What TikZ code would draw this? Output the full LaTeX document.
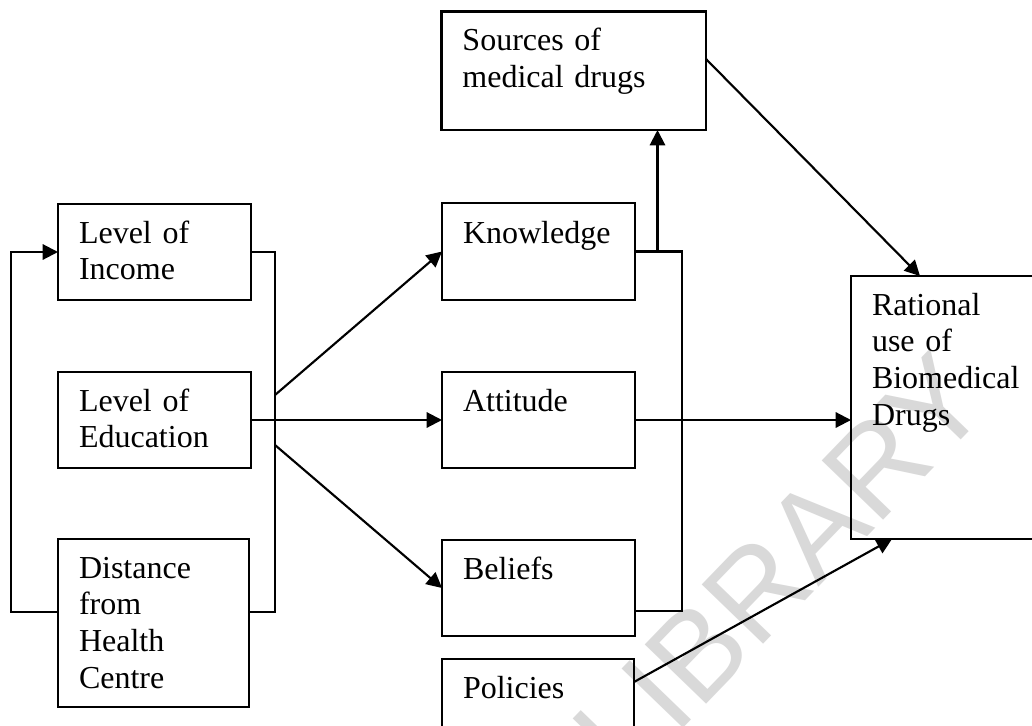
\documentclass[tikz,border=0pt]{standalone}
\usepackage{fontspec}
\setmainfont{Liberation Serif}
\newfontfamily\wmfont{Liberation Sans}
\usetikzlibrary{arrows.meta}
\begin{document}
\begin{tikzpicture}[x=0.75pt,y=-0.75pt,
  box/.style={draw, line width=1.6pt, inner sep=0pt, outer sep=0pt},
  txt/.style={inner sep=0pt, outer sep=0pt, anchor=base west, text width=220pt, align=left,
              font=\fontsize{24pt}{27.6pt}\selectfont},
  conn/.style={line width=1.6pt},
  arr/.style={line width=1.6pt, -{Triangle[length=11.5pt,width=11.5pt]}},
  wm/.style={text=black!15, inner sep=0pt, font=\wmfont\fontsize{93pt}{100pt}\selectfont}]
\useasboundingbox (0,0) rectangle (1032,725);
\clip (0,0) rectangle (1032,725);
\fill[white] (0,0) rectangle (1032,725);

% watermark
\node[wm, rotate=46] (wmark) at (780,566) {LIBRARY};

% boxes
\node[box, minimum width=144.75pt, minimum height=72pt] (inc) at (154.5,252) {};
\node[box, minimum width=144.75pt, minimum height=72pt] (edu) at (154.5,420) {};
\node[box, minimum width=143.25pt, minimum height=126pt] (dist) at (153.5,623) {};
\node[box, minimum width=198.4pt, minimum height=88.9pt] (src) at (573.75,70.75) {};
\node[box, minimum width=144.75pt, minimum height=72.75pt] (kn) at (538.5,251.5) {};
\node[box, minimum width=144.75pt, minimum height=72pt] (att) at (538.5,420) {};
\node[box, minimum width=144.75pt, minimum height=72pt] (bel) at (538.5,588) {};
\node[box, minimum width=144pt, minimum height=72pt] (pol) at (538,707) {};
\node[box, minimum width=149.25pt, minimum height=197.25pt] (rat) at (950.5,407.5) {};

% texts
\node[txt] (incT) at ([shift={(21,39)}]inc.north west) {Level of\\Income};
\node[txt] (eduT) at ([shift={(21,39)}]edu.north west) {Level of\\Education};
\node[txt] (distT) at ([shift={(21,39)}]dist.north west) {Distance\\from\\Health\\Centre};
\node[txt] (srcT) at ([shift={(21,39)}]src.north west) {Sources of\\medical drugs};
\node[txt] (knT) at ([shift={(21,40)}]kn.north west) {Knowledge};
\node[txt] (attT) at ([shift={(21,39)}]att.north west) {Attitude};
\node[txt] (belT) at ([shift={(21,39)}]bel.north west) {Beliefs};
\node[txt] (polT) at ([shift={(21,39)}]pol.north west) {Policies};
\node[txt] (ratT) at ([shift={(21,39)}]rat.north west) {Rational\\use of\\Biomedical\\Drugs};

% helper coordinates
\coordinate (lb) at (11,612);
\coordinate (rb) at (275,612);
\coordinate (d1) at (275,395);
\coordinate (d2) at (275,445);
\coordinate (kb) at (682,611);
\coordinate (up) at (657.5,252);
\coordinate (s1) at (706,59);
\coordinate (r1) at (920,276);
\coordinate (p1) at (634,682);
\coordinate (r2) at (892,539);

% left loop
\draw[arr] (dist.west |- lb) -- (lb) |- (inc.west);
% right bracket of left column
\draw[conn] (inc.east) -| (rb) -- (dist.east |- rb);
% education to middle column
\draw[arr] (edu.east) -- (att.west);
\draw[arr] (d1) -- (kn.west);
\draw[arr] (d2) -- (bel.west);
% bracket of middle column
\draw[conn] (kn.east) -| (kb) -- (bel.east |- kb);
\draw[arr] (up) -- (up |- src.south);
% to rational use
\draw[arr] (s1) -- (r1);
\draw[arr] (att.east) -- (rat.west |- att.east);
\draw[arr] (p1) -- (r2);
\end{tikzpicture}
\end{document}
